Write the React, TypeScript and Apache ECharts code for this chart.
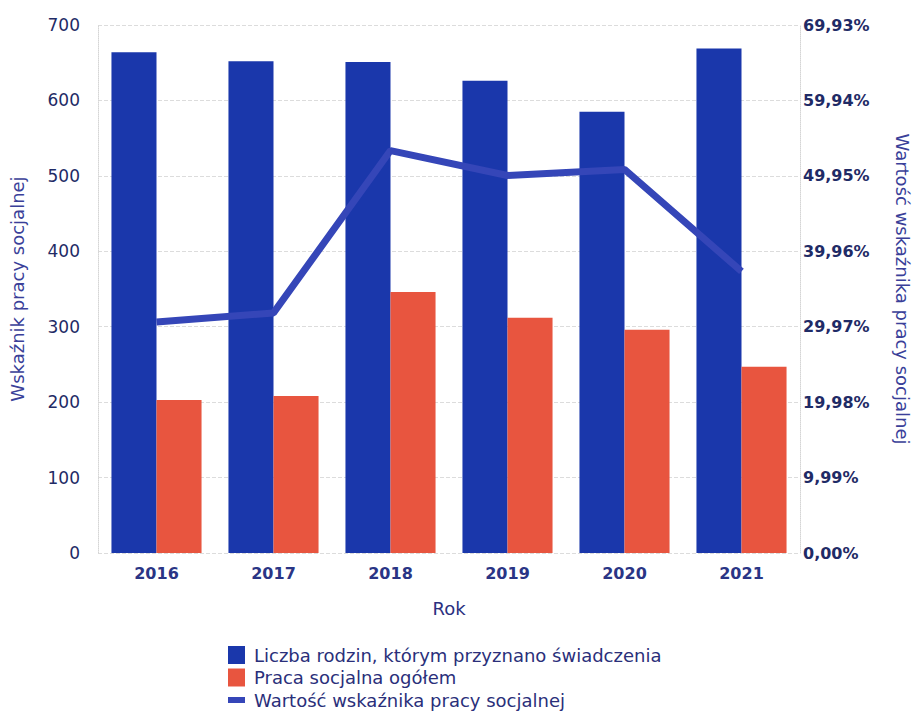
import React, { useEffect, useRef } from "react";
import * as echarts from "echarts";

const years = ["2016", "2017", "2018", "2019", "2020", "2021"];
const families = [664, 652, 651, 626, 585, 669];
const socialWork = [203, 208, 346, 312, 296, 247];
const indicator = [30.6, 31.8, 53.3, 50.0, 50.8, 37.3];
const leftTicks = { min: 0, max: 700, interval: 100 };
const rightTicks = { min: 0, max: 69.93, interval: 9.99 };

const NAMES = [
  "Liczba rodzin, którym przyznano świadczenia",
  "Praca socjalna ogółem",
  "Wartość wskaźnika pracy socjalnej",
];

const FONT = "DejaVu Sans";
const NAVY = "#1f2b66";
const LEGEND_TEXT = { fontFamily: FONT, fontSize: 18, lineHeight: 20, color: "#2a2f7a", padding: [0, 0, 0, 4] };

export default function App() {
  const ref = useRef<HTMLDivElement>(null);
  useEffect(() => {
    if (!ref.current) return;
    const chart = echarts.init(ref.current, undefined, { renderer: "svg" });
    chart.setOption({
      animation: false,
      backgroundColor: "#ffffff",
      textStyle: { fontFamily: FONT },
      grid: { left: 90, right: 120, top: 17, bottom: 160, containLabel: false, outerBoundsMode: "none" },
      legend: [
        {
          orient: "vertical",
          left: 215,
          top: 632,
          itemGap: 2.5,
          itemWidth: 17,
          itemHeight: 18,
          textStyle: LEGEND_TEXT,
          data: [
            { name: NAMES[0], icon: "rect" },
            { name: NAMES[1], icon: "rect" },
          ],
        },
        {
          orient: "vertical",
          left: 215,
          top: 677,
          itemWidth: 17,
          itemHeight: 6,
          textStyle: LEGEND_TEXT,
          data: [{ name: NAMES[2], icon: "rect" }],
        },
      ],
      xAxis: {
        type: "category",
        data: years,
        name: "Rok",
        nameLocation: "middle",
        nameGap: 46,
        nameTextStyle: { fontFamily: FONT, fontSize: 18, color: "#2a3080" },
        axisLine: { show: false },
        axisTick: { show: false },
        axisLabel: { fontFamily: FONT, fontSize: 16, fontWeight: "bold", color: "#2a3585", margin: 12 },
      },
      yAxis: [
        {
          type: "value",
          ...leftTicks,
          name: "Wskaźnik pracy socjalnej",
          nameLocation: "middle",
          nameGap: 72,
          nameRotate: 90,
          nameTextStyle: { fontFamily: FONT, fontSize: 18, color: "#3a3f99" },
          axisLine: { show: true, lineStyle: { color: "#d5d5d5", type: "dotted" } },
          axisTick: { show: false },
          axisLabel: { fontFamily: FONT, fontSize: 17, color: NAVY, margin: 18 },
          splitLine: { show: true, lineStyle: { color: "#dcdcdc", type: "dashed" } },
        },
        {
          type: "value",
          ...rightTicks,
          position: "right",
          name: "Wartość wskaźnika pracy socjalnej",
          nameLocation: "middle",
          nameGap: 93,
          nameRotate: -90,
          nameTextStyle: { fontFamily: FONT, fontSize: 18, color: "#3a3f99" },
          axisLine: { show: true, lineStyle: { color: "#d5d5d5", type: "dotted" } },
          axisTick: { show: false },
          splitLine: { show: false },
          axisLabel: {
            fontFamily: FONT,
            fontSize: 16,
            fontWeight: "bold",
            color: NAVY,
            margin: 3,
            showMaxLabel: true,
            formatter: (v: number) => v.toFixed(2).replace(".", ",") + "%",
          },
        },
      ],
      series: [
        {
          name: NAMES[0],
          type: "bar",
          data: families,
          barGap: "0%",
          barCategoryGap: "23%",
          itemStyle: { color: "#1a37ab" },
        },
        {
          name: NAMES[1],
          type: "bar",
          data: socialWork,
          itemStyle: { color: "#e8553f" },
        },
        {
          name: NAMES[2],
          type: "line",
          yAxisIndex: 1,
          data: indicator,
          symbol: "none",
          lineStyle: { color: "#3546b8", width: 7 },
          itemStyle: { color: "#3546b8" },
        },
      ],
    });
    return () => chart.dispose();
  }, []);
  return <div ref={ref} style={{ width: 912, height: 705 }} />;
}
